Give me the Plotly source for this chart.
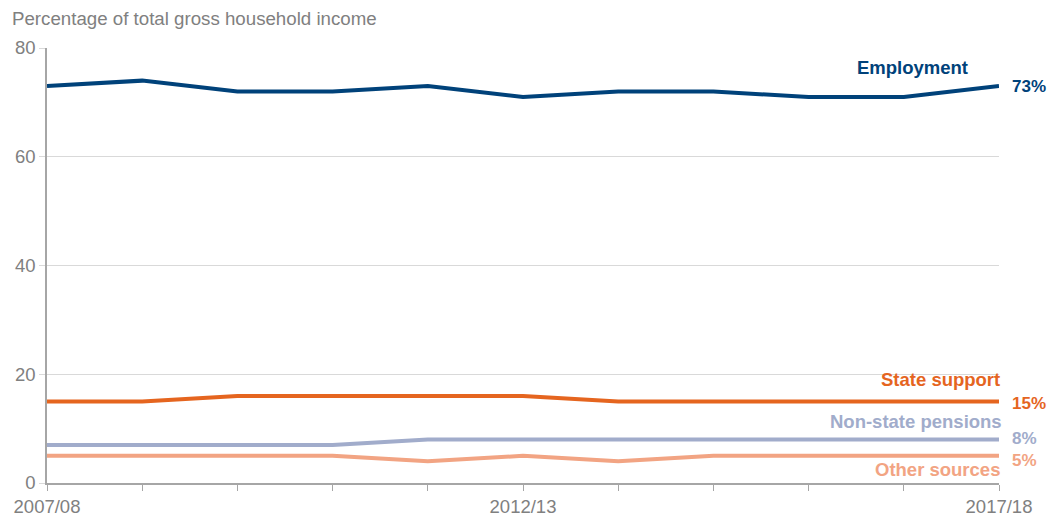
import plotly.graph_objs as go

# Dados
anos = ["2007/08", "2008/09", "2009/10", "2010/11", "2011/12", "2012/13",
        "2013/14", "2014/15", "2015/16", "2016/17", "2017/18"]
emprego = [73, 74, 72, 72, 73, 71, 72, 72, 71, 71, 73]
apoio_estado = [15, 15, 16, 16, 16, 16, 15, 15, 15, 15, 15]
pensoes = [7, 7, 7, 7, 8, 8, 8, 8, 8, 8, 8]
outras = [5, 5, 5, 5, 4, 5, 4, 5, 5, 5, 5]
rotulos_x = ["2007/08", "", "", "", "", "2012/13", "", "", "", "", "2017/18"]

series = [
    ("Employment", emprego, "#00427A", 76.5, -29, "73%", 73),
    ("State support", apoio_estado, "#E5651F", 19.0, 3, "15%", 14.6),
    ("Non-state pensions", pensoes, "#A1ACCB", 11.4, 5, "8%", 8.2),
    ("Other sources", outras, "#F2A483", 2.4, 3, "5%", 4.2),
]

x = list(range(len(anos)))
fig = go.Figure()
anotacoes = []
for nome, valores, cor, y_rot, desloc, txt_fim, y_fim in series:
    fig.add_trace(go.Scatter(x=x, y=valores, mode="lines", name=nome,
                             line=dict(color=cor, width=4), hoverinfo="y+name"))
    anotacoes.append(dict(x=x[-1], y=y_rot, text="<b>%s</b>" % nome, showarrow=False,
                          xanchor="right", xshift=desloc,
                          font=dict(size=18.5, color=cor)))
    # valor final à direita da linha (um pouco menor para caber na janela)
    anotacoes.append(dict(x=x[-1], y=y_fim, text="<b>%s</b>" % txt_fim, showarrow=False,
                          xanchor="left", xshift=11, font=dict(size=17, color=cor)))

anotacoes.append(dict(text="Percentage of total gross household income", x=0, y=1,
                      xref="paper", yref="paper", xanchor="left", yanchor="middle",
                      xshift=-37, yshift=30, showarrow=False,
                      font=dict(size=18.7, color="#808080")))

# o body da página tem 8px de margem: compensar nas margens da figura
fig.update_layout(
    width=1055, height=515,
    margin=dict(l=39, r=64, t=40, b=40),
    plot_bgcolor="white", paper_bgcolor="white",
    font=dict(family="Liberation Sans, Arial", color="#808080"),
    showlegend=False,
    annotations=anotacoes,
    xaxis=dict(tickvals=x, ticktext=rotulos_x, range=[0, 10], showgrid=False,
               showline=True, linecolor="#A6A6A6", linewidth=1.5,
               ticks="outside", ticklen=6, tickcolor="#A6A6A6", automargin=False,
               tickfont=dict(size=18.5, color="#808080"), zeroline=False),
    yaxis=dict(range=[0, 80], tickvals=[0, 20, 40, 60, 80], showgrid=True,
               gridcolor="#D9D9D9", showline=True, linecolor="#A6A6A6", linewidth=1.5,
               ticks="outside", ticklen=6, tickcolor="#D9D9D9", automargin=False,
               tickfont=dict(size=18.5, color="#808080"), zeroline=False),
)

fig.write_html("out.html")
